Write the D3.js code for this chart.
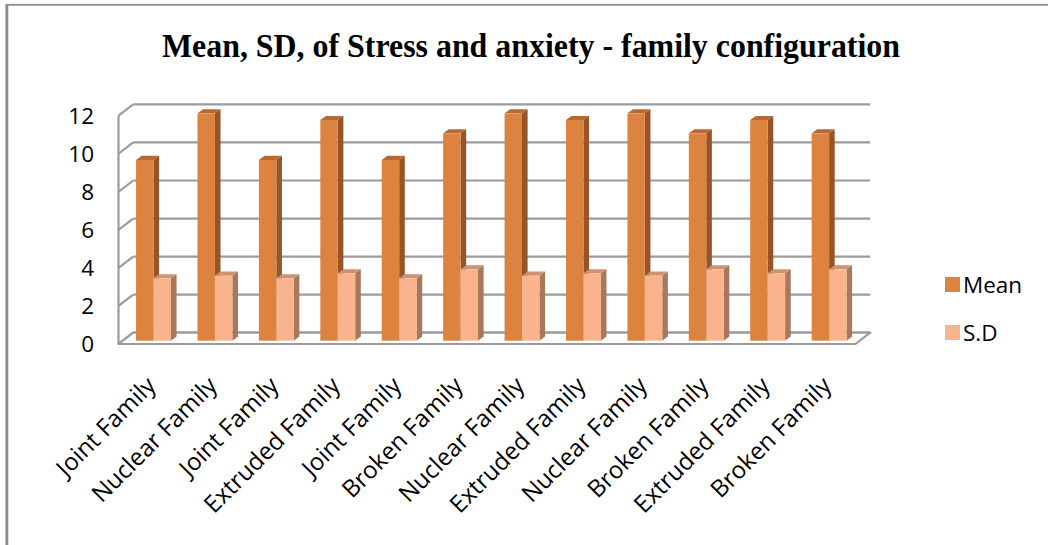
<!DOCTYPE html>
<html>
<head>
<meta charset="utf-8">
<script src="https://cdn.jsdelivr.net/npm/d3@7"></script>
<style>
  html, body { margin: 0; padding: 0; background: #fff; }
  svg { display: block; }
</style>
</head>
<body>
<svg id="chart" width="1048" height="545"></svg>
<script>
// ---- data ----
const categories = ["Joint Family","Nuclear Family","Joint Family","Extruded Family","Joint Family","Broken Family","Nuclear Family","Extruded Family","Nuclear Family","Broken Family","Extruded Family","Broken Family"];
const seriesNames = ["Mean", "S.D"];
const meanValues = [9.5, 11.95, 9.5, 11.6, 9.5, 10.9, 11.95, 11.6, 11.95, 10.9, 11.6, 10.9];
const sdValues = [3.28, 3.42, 3.28, 3.54, 3.28, 3.75, 3.42, 3.54, 3.42, 3.75, 3.54, 3.75];
const yTicks = [0, 2, 4, 6, 8, 10, 12];
const titleText = "Mean, SD, of Stress and anxiety - family configuration";

// ---- styles ----
const colors = {
  "Mean": { front: "#DD8340", side: "#975426", top: "#B56A33" },
  "S.D":  { front: "#F9B48E", side: "#A8785C", top: "#CC9272" }
};
const gridColor = "#9b9b9b";

const svg = d3.select("#chart");

// frame
svg.append("rect").attr("x", 6.5).attr("y", 4.8).attr("width", 1200).attr("height", 700)
  .attr("fill", "none").attr("stroke", "#8c8c8c").attr("stroke-width", 1.8);
svg.append("line").attr("x1", 7).attr("x2", 7).attr("y1", 4).attr("y2", 545)
  .attr("stroke", "#8c8c8c").attr("stroke-width", 2.6);

// title
svg.append("text").attr("x", 531).attr("y", 57)
  .attr("text-anchor", "middle")
  .attr("font-family", "'Liberation Serif', 'Times New Roman', serif")
  .attr("font-weight", "bold").attr("font-size", 33)
  .attr("textLength", 738).attr("lengthAdjust", "spacingAndGlyphs")
  .attr("fill", "#000").text(titleText);

// ---- 3D geometry ----
const frontLeft = 118.5, frontRight = 855.5;
const depth = { dx: 14.7, dy: -11.3 };       // wall depth
const barDepth = { dx: 5.6, dy: -4.1 };      // bar depth
const barShift = { dx: 4.3, dy: -3.3 };      // bar front plane offset from front

const x = d3.scaleBand().domain(d3.range(categories.length)).range([frontLeft, frontRight]);
const xs = d3.scaleBand().domain(seriesNames).range([0, x.bandwidth()]).paddingOuter(0.76);
const y = d3.scaleLinear().domain([0, 12]).range([344, 115.7]);

const g = svg.append("g");

// back wall gridlines
g.selectAll("line.backgrid").data(yTicks).join("line")
  .attr("class", "backgrid")
  .attr("x1", frontLeft + depth.dx).attr("x2", frontRight + depth.dx)
  .attr("y1", d => y(d) + depth.dy).attr("y2", d => y(d) + depth.dy)
  .attr("stroke", gridColor).attr("stroke-width", 2.2);

// side wall gridlines
g.selectAll("line.sidegrid").data(yTicks).join("line")
  .attr("class", "sidegrid")
  .attr("x1", frontLeft).attr("x2", frontLeft + depth.dx)
  .attr("y1", d => y(d)).attr("y2", d => y(d) + depth.dy)
  .attr("stroke", gridColor).attr("stroke-width", 2.2);

// floor
const floorPts = [
  [frontLeft, y(0)], [frontRight, y(0)],
  [frontRight + depth.dx, y(0) + depth.dy], [frontLeft + depth.dx, y(0) + depth.dy]
];
g.append("polygon").attr("points", floorPts.map(p => p.join(",")).join(" "))
  .attr("fill", "#fff").attr("stroke", gridColor).attr("stroke-width", 2.2)
  .attr("stroke-linejoin", "round");

// left axis vertical line (front edge of side wall)
g.append("line").attr("x1", frontLeft).attr("x2", frontLeft)
  .attr("y1", y(12)).attr("y2", y(0))
  .attr("stroke", gridColor).attr("stroke-width", 2.2);

// y tick labels
svg.selectAll("text.ytick").data(yTicks).join("text")
  .attr("class", "ytick")
  .attr("x", 94).attr("y", d => y(d) + 8)
  .attr("text-anchor", "end")
  .attr("font-family", "'Open Sans', sans-serif").attr("font-size", 22.5)
  .attr("fill", "#000").text(d => d);

// bars
const barData = [];
categories.forEach((c, i) => {
  barData.push({ i, s: "Mean", v: meanValues[i] });
  barData.push({ i, s: "S.D", v: sdValues[i] });
});

const bars = g.selectAll("g.bar").data(barData).join("g").attr("class", "bar");
bars.each(function(d) {
  const sel = d3.select(this);
  const x0 = x(d.i) + xs(d.s) + barShift.dx;
  const x1 = x0 + xs.bandwidth();
  const yb = y(0) + barShift.dy;
  const yt = y(d.v) + barShift.dy;
  const c = colors[d.s];
  // side face
  sel.append("polygon").attr("points", [
    [x1, yb], [x1 + barDepth.dx, yb + barDepth.dy],
    [x1 + barDepth.dx, yt + barDepth.dy], [x1, yt]
  ].map(p => p.join(",")).join(" ")).attr("fill", c.side);
  // top face
  sel.append("polygon").attr("points", [
    [x0, yt], [x1, yt], [x1 + barDepth.dx, yt + barDepth.dy], [x0 + barDepth.dx, yt + barDepth.dy]
  ].map(p => p.join(",")).join(" ")).attr("fill", c.top);
  // front face
  sel.append("rect").attr("x", x0).attr("y", yt)
    .attr("width", xs.bandwidth()).attr("height", yb - yt).attr("fill", c.front);
});

// x labels
svg.selectAll("text.xlabel").data(categories).join("text")
  .attr("class", "xlabel")
  .attr("transform", (d, i) => `translate(${x(i) + x.bandwidth() / 2 + 8},${387}) rotate(-45)`)
  .attr("text-anchor", "end")
  .attr("font-family", "'Open Sans', sans-serif").attr("font-size", 24)
  .attr("fill", "#000").text(d => d);

// legend
const legend = svg.append("g").selectAll("g").data(seriesNames).join("g")
  .attr("transform", (d, i) => `translate(945,${277 + i * 48})`);
legend.append("rect").attr("width", 15).attr("height", 15).attr("fill", d => colors[d].front);
legend.append("text").attr("x", 18).attr("y", 15.5)
  .attr("font-family", "'Open Sans', sans-serif").attr("font-size", 22.5)
  .attr("fill", "#000").text(d => d);
</script>
</body>
</html>
